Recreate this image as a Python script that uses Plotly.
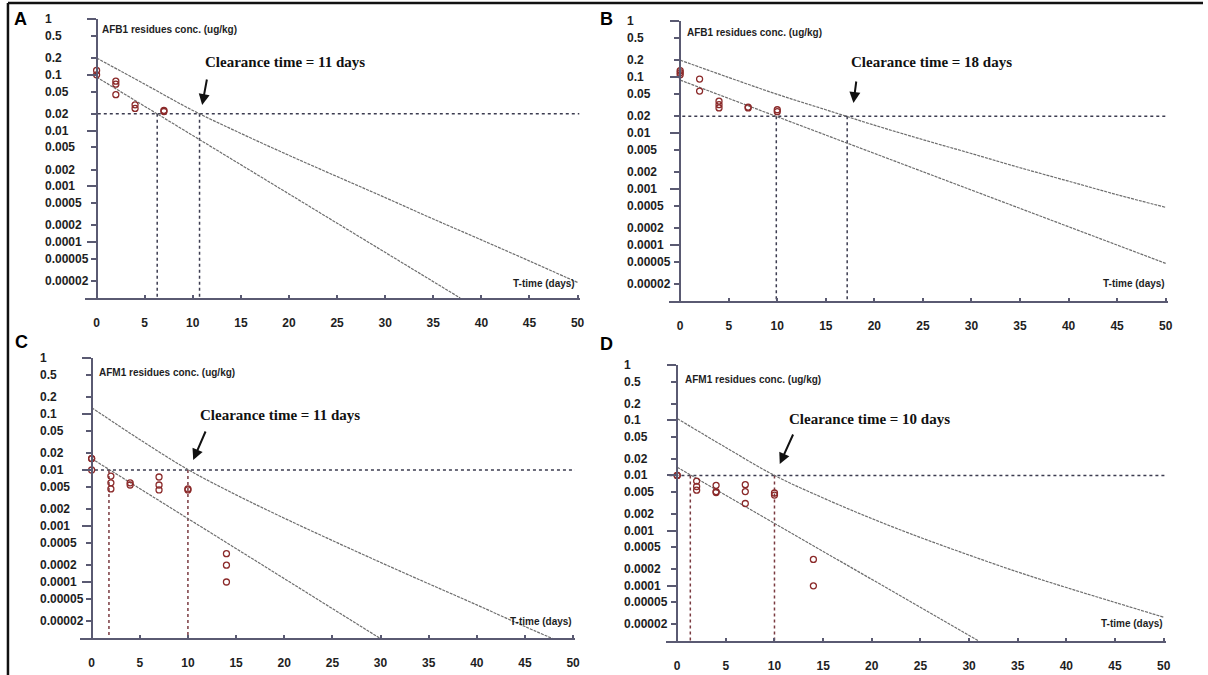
import numpy as np
import plotly.graph_objects as go

W, H = 1208, 675

# ---------------- data ----------------
# sampling days / residue concentrations (ug/kg)
days_A = [0, 0, 2, 2, 2, 4, 4, 7, 7]
conc_A = [0.12, 0.10, 0.077, 0.068, 0.044, 0.029, 0.025, 0.023, 0.022]

days_B = [0, 0, 0, 2, 2, 4, 4, 4, 7, 7, 10, 10]
conc_B = [0.13, 0.12, 0.11, 0.092, 0.056, 0.037, 0.032, 0.028, 0.029, 0.028, 0.026, 0.024]

days_C = [0, 0, 0, 2, 2, 2, 4, 4, 7, 7, 7, 10, 10, 14, 14, 14]
conc_C = [0.016, 0.016, 0.010, 0.0078, 0.0059, 0.0046, 0.0059, 0.0054,
          0.0075, 0.0054, 0.0044, 0.0046, 0.0044, 0.00032, 0.0002, 0.0001]

days_D = [0, 0, 2, 2, 2, 4, 4, 4, 7, 7, 7, 10, 10, 14, 14]
conc_D = [0.010, 0.010, 0.0079, 0.0063, 0.0054, 0.0066, 0.0051, 0.0049,
          0.0068, 0.0051, 0.0031, 0.0048, 0.0044, 0.0003, 0.0001]

# regression lines (start, end)
reg_A_x = [0, 37.8]
reg_A_y = [0.091, 1e-5]
reg_B_x = [0, 50]
reg_B_y = [0.088, 4.7e-5]
reg_C_x = [0, 29.9]
reg_C_y = [0.016, 1e-5]
reg_D_x = [0, 31.0]
reg_D_y = [0.014, 1e-5]

# upper tolerance limit curves
tol_x = [0, 5, 10, 15, 20, 25, 30, 35, 40, 45, 50]
tol_A_y = [0.20, 0.068, 0.023, 0.0089, 0.0036, 0.0015, 0.00063, 0.00026, 0.00011, 4.6e-5, 1.9e-5]
tol_B_y = [0.20, 0.098, 0.049, 0.026, 0.0138, 0.0076, 0.0043, 0.0024, 0.00138, 0.00079, 0.00047]
tol_C_y = [0.13, 0.035, 0.0102, 0.0036, 0.00138, 0.00055, 0.000224, 9.3e-5, 3.9e-5, 1.6e-5, 6.8e-6]
tol_D_y = [0.107, 0.032, 0.010, 0.0039, 0.00165, 0.00075, 0.00036, 0.000178, 9.3e-5, 5.0e-5, 2.7e-5]

# maximum residue limits and crossing days
mrl = {"A": 0.02, "B": 0.02, "C": 0.01, "D": 0.01}
cross = {"A": [6.3, 10.7], "B": [9.9, 17.2], "C": [1.8, 10.0], "D": [1.35, 10.0]}
clearance_days = {"A": 11, "B": 18, "C": 11, "D": 10}
analyte = {"A": "AFB1", "B": "AFB1", "C": "AFM1", "D": "AFM1"}

# axis ticks
y_major = [1, 0.1, 0.01, 0.001, 0.0001]
y_minor = [0.5, 0.2, 0.05, 0.02, 0.005, 0.002, 0.0005, 0.0002, 0.00005, 0.00002]
y_tickvals = [1, 0.5, 0.2, 0.1, 0.05, 0.02, 0.01, 0.005, 0.002, 0.001,
              0.0005, 0.0002, 0.0001, 0.00005, 0.00002]
y_ticktext = ["1", "0.5", "0.2", "0.1", "0.05", "0.02", "0.01", "0.005", "0.002", "0.001",
              "0.0005", "0.0002", "0.0001", "0.00005", "0.00002"]
x_tickvals = [0, 5, 10, 15, 20, 25, 30, 35, 40, 45, 50]

# ---------------- layout geometry (pixels) ----------------
panels = {
    "A": dict(px0=97, s=9.66, ytop=19, ybot=298, lab=43, title=(100, 30), ttime=(513, 283),
              ctext=(204, 62), head=(203, 105), tail=(208, 78), letter=(21, 19), hx0=-0.5),
    "B": dict(px0=683, s=9.75, ytop=21, ybot=301, lab=628, title=(688, 33), ttime=(1106, 283),
              ctext=(853, 62), head=(857, 103), tail=(860, 80), letter=(609, 19), hx0=-0.4),
    "C": dict(px0=92, s=9.67, ytop=358, ybot=638, lab=38, title=(97, 372), ttime=(510, 621),
              ctext=(199, 415), head=(194, 460), tail=(207, 430), letter=(22, 342), hx0=-0.9),
    "D": dict(px0=680, s=9.77, ytop=365, ybot=641, lab=625, title=(686, 379), ttime=(1104, 623),
              ctext=(790, 419), head=(783, 464), tail=(797, 433), letter=(609, 344), hx0=-0.8),
}
data = {
    "A": (days_A, conc_A, reg_A_x, reg_A_y, tol_A_y),
    "B": (days_B, conc_B, reg_B_x, reg_B_y, tol_B_y),
    "C": (days_C, conc_C, reg_C_x, reg_C_y, tol_C_y),
    "D": (days_D, conc_D, reg_D_x, reg_D_y, tol_D_y),
}

AX = "#5a5a72"
LINE = "#6e6e6e"
PT = "#8b2a2a"
DOT_AB = "#3c3c50"
DOT_CD = "#7a3a40"
XR = [-1.2, 50.2]

fig = go.Figure()
layout = dict(
    width=W, height=H, margin=dict(l=0, r=0, t=0, b=0),
    paper_bgcolor="white", plot_bgcolor="white", showlegend=False,
)
annotations = []
shapes = []

for i, key in enumerate(["A", "B", "C", "D"]):
    p = panels[key]
    n = "" if i == 0 else str(i + 1)
    xa, ya = "x" + n, "y" + n
    left = p["px0"] + XR[0] * p["s"]
    right = p["px0"] + XR[1] * p["s"]
    layout["xaxis" + n] = dict(
        range=XR, domain=[left / W, right / W], anchor=ya,
        showline=True, linecolor=AX, linewidth=2, showgrid=False, zeroline=False,
        tickmode="array", tickvals=x_tickvals, ticks="inside", ticklen=3, tickwidth=2,
        tickcolor=AX, ticklabelstandoff=13,
        tickfont=dict(family="Liberation Sans, Arial", size=12, color="#1e1e1e", weight="bold"),
    )
    layout["yaxis" + n] = dict(
        type="log", range=[-5, 0], domain=[1 - p["ybot"] / H, 1 - p["ytop"] / H],
        anchor="free", position=p["px0"] / W,
        showline=True, linecolor=AX, linewidth=2, showgrid=False, zeroline=False,
        tickmode="array", tickvals=y_major, ticks="outside", ticklen=9, tickwidth=2,
        tickcolor=AX, showticklabels=False,
        minor=dict(tickmode="array", tickvals=y_minor, ticks="outside", ticklen=5,
                   tickwidth=2, tickcolor=AX, showgrid=False),
    )

    days, conc, rx, ry, ty = data[key]
    dotc = DOT_AB if key in ("A", "B") else DOT_CD
    m = mrl[key]
    fig.add_trace(go.Scatter(x=[p["hx0"], 50.2], y=[m, m], mode="lines", xaxis=xa, yaxis=ya,
                             line=dict(color=DOT_AB, width=1.5, dash="dot"), hoverinfo="skip"))
    for c in cross[key]:
        fig.add_trace(go.Scatter(x=[c, c], y=[m, 1e-5], mode="lines", xaxis=xa, yaxis=ya,
                                 line=dict(color=dotc, width=1.5, dash="dot"), hoverinfo="skip"))
    fig.add_trace(go.Scatter(x=rx, y=ry, mode="lines", xaxis=xa, yaxis=ya,
                             line=dict(color=LINE, width=1.2, dash="3px,1px")))
    fig.add_trace(go.Scatter(x=tol_x, y=ty, mode="lines", xaxis=xa, yaxis=ya,
                             line=dict(color=LINE, width=1.2, dash="3px,1px", shape="spline")))
    fig.add_trace(go.Scatter(x=days, y=conc, mode="markers", xaxis=xa, yaxis=ya,
                             marker=dict(symbol="circle-open", size=6, color=PT,
                                         line=dict(width=1.3, color=PT))))

    for v, t in zip(y_tickvals, y_ticktext):
        annotations.append(dict(
            x=p["lab"] / W, xref="paper", y=np.log10(v), yref=ya, text=t, showarrow=False,
            xanchor="left", yanchor="middle",
            font=dict(family="Liberation Sans, Arial", size=12, color="#1e1e1e", weight="bold")))
    annotations.append(dict(
        x=p["title"][0] / W, y=1 - p["title"][1] / H, xref="paper", yref="paper",
        text=analyte[key] + " residues conc. (ug/kg)", showarrow=False,
        xanchor="left", yanchor="middle",
        font=dict(family="Liberation Sans, Arial", size=10, color="#1e1e1e", weight="bold")))
    annotations.append(dict(
        x=p["ttime"][0] / W, y=1 - p["ttime"][1] / H, xref="paper", yref="paper",
        text="T-time (days)", showarrow=False, xanchor="left", yanchor="middle",
        font=dict(family="Liberation Sans, Arial", size=10, color="#1e1e1e", weight="bold")))
    annotations.append(dict(
        x=p["ctext"][0] / W, y=1 - p["ctext"][1] / H, xref="paper", yref="paper",
        text="Clearance time = %d days" % clearance_days[key], showarrow=False,
        xanchor="left", yanchor="middle",
        font=dict(family="Liberation Serif, Times New Roman", size=15, color="#111", weight="bold")))
    hx = (p["head"][0] - p["px0"]) / p["s"]
    hy = -(p["head"][1] - p["ytop"]) / ((p["ybot"] - p["ytop"]) / 5.0)
    annotations.append(dict(
        x=hx, y=hy, xref=xa, yref=ya, text="", showarrow=True,
        ax=p["tail"][0] - p["head"][0], ay=p["tail"][1] - p["head"][1],
        arrowhead=2, arrowsize=1.1, arrowwidth=2, arrowcolor="#111"))
    annotations.append(dict(
        x=p["letter"][0] / W, y=1 - p["letter"][1] / H, xref="paper", yref="paper",
        text=key, showarrow=False, xanchor="center", yanchor="middle",
        font=dict(family="Liberation Sans, Arial", size=18, color="#000", weight="bold")))

shapes.append(dict(type="line", xref="paper", yref="paper", x0=8 / W, x1=8 / W, y0=0, y1=1 - 3 / H,
                   line=dict(color="#111", width=2.5)))
shapes.append(dict(type="line", xref="paper", yref="paper", x0=8 / W, x1=1, y0=1 - 3 / H, y1=1 - 3 / H,
                   line=dict(color="#111", width=2.5)))

layout["annotations"] = annotations
layout["shapes"] = shapes
fig.update_layout(**layout)
fig.write_html("out.html")
